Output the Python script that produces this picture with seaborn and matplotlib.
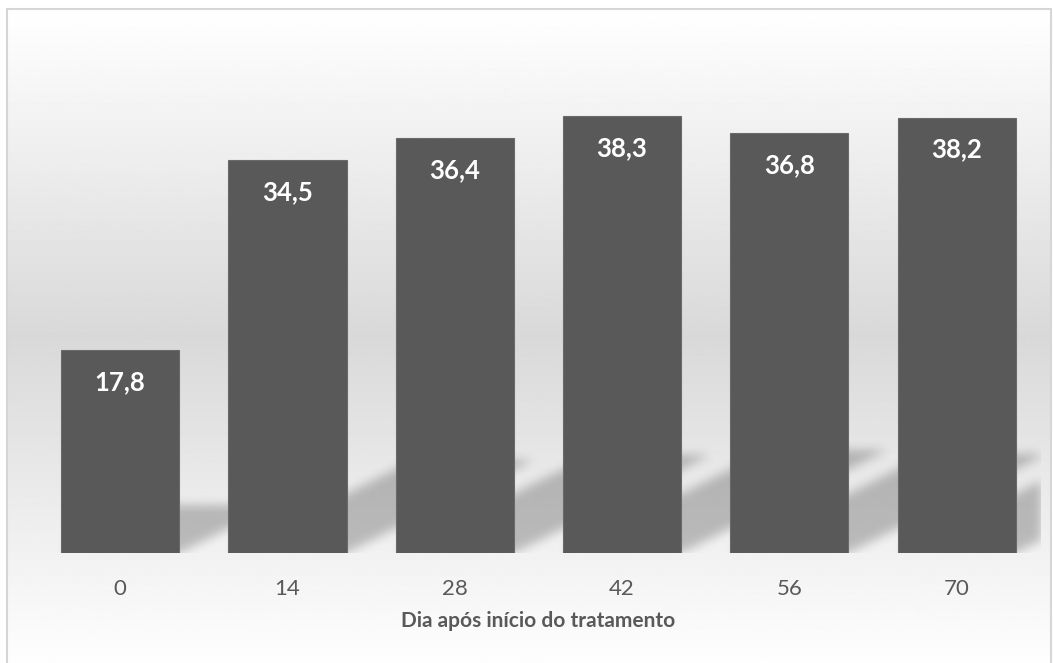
import numpy as np
import pandas as pd
import matplotlib
matplotlib.use("Agg")
import matplotlib.pyplot as plt
from matplotlib.patches import Rectangle
import seaborn as sns

# Data
dias = ["0", "14", "28", "42", "56", "70"]
valores = [17.8, 34.5, 36.4, 38.3, 36.8, 38.2]
titulo_x = "Dia após início do tratamento"

BAR_COLOR = "#595959"
TEXT_COLOR = "#595959"
BAR_WIDTH = 0.707
Y_MAX = 45

sns.set_theme(style="white")
plt.rcParams["font.family"] = ["Lato", "DejaVu Sans"]

W, H, DPI = 1053, 663, 100
fig = plt.figure(figsize=(W / DPI, H / DPI), dpi=DPI)
fig.patch.set_facecolor("white")

# Chart area: vertical grey gradient framed by a thin light border
cx0, cx1 = 7 / W, 1051 / W
ctop = 1 - 9 / H
bg = fig.add_axes([cx0, 0, cx1 - cx0, ctop], zorder=-2)
t = np.linspace(0, 1, 600)[:, None]          # 0 = top, 1 = bottom
grad = np.interp(t, [0.0, 0.50, 1.0], [1.0, 0.85, 0.995])
bg.imshow(grad, cmap="gray", vmin=0, vmax=1, aspect="auto",
          extent=(0, 1, 0, 1), interpolation="bilinear")
bg.set_axis_off()

fig.patches.append(Rectangle((cx0, -0.02), cx1 - cx0, ctop + 0.02,
                             transform=fig.transFigure, fill=False,
                             edgecolor="#d6d6d6", linewidth=1.5))

# Plot area
ax_w_px, ax_h_px = 6 * 167.3, Y_MAX * 11.4
ax = fig.add_axes([36.5 / W, 110 / H, ax_w_px / W, ax_h_px / H])
ax.patch.set_alpha(0)

df = pd.DataFrame({"dia": dias, "valor": valores})
sns.barplot(data=df, x="dia", y="valor", order=dias, color=BAR_COLOR,
            saturation=1, width=BAR_WIDTH, edgecolor="#6a6a6a",
            linewidth=0.8, ax=ax, zorder=3)

# Soft perspective shadows cast behind each bar
nx, ny = 1004, 513
xs = np.linspace(0, ax_w_px, nx)
ys = np.linspace(0, ax_h_px, ny)
X, Y = np.meshgrid(xs, ys)
pitch, unit = ax_w_px / len(dias), ax_h_px / Y_MAX
mask = np.zeros_like(X)
for i, v in enumerate(valores):
    left = (i + 0.5 - BAR_WIDTH / 2) * pitch
    right = (i + 0.5 + BAR_WIDTH / 2) * pitch
    hs = 0.235 * v * unit
    off = 2.0 * Y
    inside = (Y <= hs) & (X >= left + off) & (X <= right + off)
    mask = np.maximum(mask, inside.astype(float))

sigma = 5.0
k = np.arange(-15, 16)
kern = np.exp(-0.5 * (k / sigma) ** 2)
kern /= kern.sum()
blur = np.apply_along_axis(lambda r: np.convolve(r, kern, mode="same"), 1, mask)
blur = np.apply_along_axis(lambda c: np.convolve(c, kern, mode="same"), 0, blur)
shadow = np.zeros((ny, nx, 4))
shadow[..., 3] = 0.23 * blur
ax.imshow(shadow, origin="lower", extent=(-0.5, len(dias) - 0.5, 0, Y_MAX),
          aspect="auto", interpolation="bilinear", zorder=1)

ax.set_xlim(-0.5, len(dias) - 0.5)
ax.set_ylim(0, Y_MAX)

# Value labels inside the top of each bar
for i, v in enumerate(valores):
    ax.annotate(f"{v:.1f}".replace(".", ","), xy=(i, v), xytext=(0, -28.8),
                textcoords="offset points", ha="center", va="baseline",
                color="white", fontsize=18.5, fontweight="bold", zorder=4)

ax.set_yticks([])
ax.set_ylabel("")
ax.tick_params(axis="x", length=0, pad=18.5, labelsize=16, labelcolor=TEXT_COLOR)
ax.set_xlabel(titulo_x, fontsize=15, fontweight="bold", color=TEXT_COLOR,
              labelpad=9)
sns.despine(ax=ax, left=True, bottom=True)

fig.savefig("out.png", dpi=DPI)
